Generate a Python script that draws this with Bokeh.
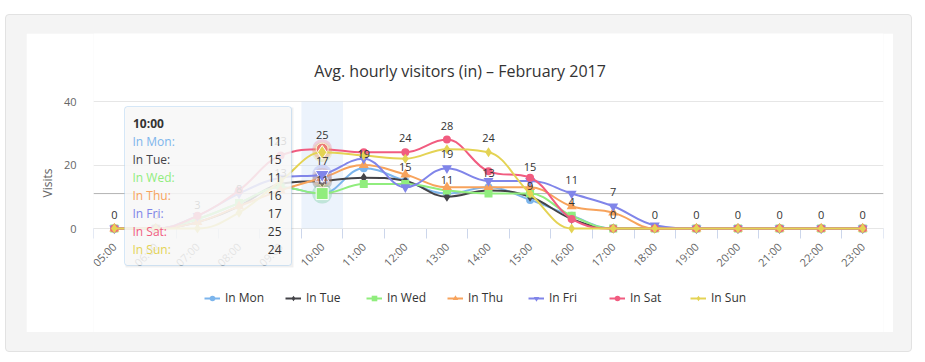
import math
from bokeh.plotting import figure
from bokeh.models import (Range1d, FixedTicker, Span, BoxAnnotation, Label, Legend,
                          LegendItem, ColumnDataSource)
from bokeh.layouts import column
from bokeh.embed import file_html
from bokeh.resources import INLINE
from bokeh.core.properties import value

# ---------------- data ----------------
title_text = "Avg. hourly visitors (in) \u2013 February 2017"
y_axis_title = "Visits"
hours = ["05:00", "06:00", "07:00", "08:00", "09:00", "10:00", "11:00", "12:00",
         "13:00", "14:00", "15:00", "16:00", "17:00", "18:00", "19:00", "20:00",
         "21:00", "22:00", "23:00"]
series_names = ["In Mon", "In Tue", "In Wed", "In Thu", "In Fri", "In Sat", "In Sun"]
series_colors = ["#7cb5ec", "#434348", "#90ed7d", "#f7a35c", "#8085e9", "#f15c80", "#e4d354"]
series_markers = ["circle", "diamond", "square", "triangle", "inverted_triangle", "circle", "diamond"]

in_mon = [0, 0, 3, 8, 13, 11, 19, 15, 11, 13, 9, 4, 0, 0, 0, 0, 0, 0, 0]
in_tue = [0, 0, 2, 7, 14, 15, 16, 15, 10, 12, 10, 3, 0, 0, 0, 0, 0, 0, 0]
in_wed = [0, 0, 3, 8, 13, 11, 14, 14, 12, 11, 11, 4, 0, 0, 0, 0, 0, 0, 0]
in_thu = [0, 0, 2, 7, 12, 16, 20, 17, 13, 13, 13, 7, 5, 0, 0, 0, 0, 0, 0]
in_fri = [0, 0, 4, 11, 16, 17, 22, 13, 19, 15, 15, 11, 7, 1, 0, 0, 0, 0, 0]
in_sat = [0, 0, 4, 12, 23, 25, 24, 24, 28, 18, 16, 3, 0, 0, 0, 0, 0, 0, 0]
in_sun = [0, 0, 0, 5, 15, 24, 23, 22, 25, 24, 11, 0, 0, 0, 0, 0, 0, 0, 0]
series_values = [in_mon, in_tue, in_wed, in_thu, in_fri, in_sat, in_sun]

y_ticks = [0, 20, 40]
y_max = 40
reference_line = 11
tooltip_hour = "10:00"

# ---------------- geometry / style ----------------
FONT = "Open Sans"
FIG_W, FIG_H = 867, 299
ORIGIN_X, ORIGIN_Y = 26, 33          # page position of the figure
MB_L, MB_R = 67, 10                  # frame spans the plot area horizontally
FRAME_W = FIG_W - MB_L - MB_R
ZERO_PY = 228                        # page y of value 0
PX_PER_UNIT = 127 / y_max            # 0 -> 228 px, 40 -> 101 px
n = len(hours)


def dx(px):   # page x pixel -> data x
    return -0.5 + (px - ORIGIN_X - MB_L) / FRAME_W * n


def dy(py):   # page y pixel -> data y
    return (ZERO_PY - py) / PX_PER_UNIT


def spline(ys):
    """Highcharts-style spline control points (smoothing 1.5)."""
    xs = list(range(len(ys)))
    s, d = 1.5, 2.5
    lc = [None] * len(ys)
    rc = [None] * len(ys)
    for i in range(1, len(ys) - 1):
        px, py = xs[i], ys[i]
        lx, ly = xs[i - 1], ys[i - 1]
        nx, ny = xs[i + 1], ys[i + 1]
        lcx, lcy = (s * px + lx) / d, (s * py + ly) / d
        rcx, rcy = (s * px + nx) / d, (s * py + ny) / d
        corr = ((rcy - lcy) * (rcx - px)) / (rcx - lcx) + py - rcy
        lcy += corr
        rcy += corr
        if lcy > ly and lcy > py:
            lcy = max(ly, py); rcy = 2 * py - lcy
        elif lcy < ly and lcy < py:
            lcy = min(ly, py); rcy = 2 * py - lcy
        if rcy > ny and rcy > py:
            rcy = max(ny, py); lcy = 2 * py - rcy
        elif rcy < ny and rcy < py:
            rcy = min(ny, py); lcy = 2 * py - rcy
        lc[i] = (lcx, lcy)
        rc[i] = (rcx, rcy)
    out = dict(x0=[], y0=[], x1=[], y1=[], cx0=[], cy0=[], cx1=[], cy1=[])
    for i in range(1, len(ys)):
        a = rc[i - 1] or (xs[i - 1], ys[i - 1])
        b = lc[i] or (xs[i], ys[i])
        out["x0"].append(xs[i - 1]); out["y0"].append(ys[i - 1])
        out["x1"].append(xs[i]); out["y1"].append(ys[i])
        out["cx0"].append(a[0]); out["cy0"].append(a[1])
        out["cx1"].append(b[0]); out["cy1"].append(b[1])
    return out


p = figure(width=FIG_W, height=FIG_H, title=None,
           x_range=Range1d(-0.5, n - 0.5),
           y_range=Range1d(dy(ORIGIN_Y + FIG_H), dy(ORIGIN_Y)),
           output_backend="svg", toolbar_location=None,
           min_border_left=MB_L, min_border_right=MB_R, min_border_top=0, min_border_bottom=0,
           outline_line_color=None, background_fill_color="white", border_fill_color="white")

# grid / axes
p.xgrid.visible = False
p.ygrid.ticker = FixedTicker(ticks=y_ticks)
p.ygrid.grid_line_color = "#e6e6e6"

xa = p.xaxis[0]
xa.fixed_location = 0
xa.level = "underlay"
xa.ticker = FixedTicker(ticks=list(range(n)), minor_ticks=[i - 0.5 for i in range(n + 1)])
xa.major_label_overrides = {i: h for i, h in enumerate(hours)}
xa.major_label_orientation = math.pi / 4
xa.axis_line_color = "#ccd6eb"
xa.major_tick_line_color = None
xa.minor_tick_line_color = "#ccd6eb"
xa.minor_tick_out = 10
xa.minor_tick_in = 0
xa.major_label_text_color = "#666666"
xa.major_label_text_font = FONT
xa.major_label_text_font_size = "11px"
xa.major_label_standoff = 6

ya = p.yaxis[0]
ya.ticker = FixedTicker(ticks=y_ticks)
ya.bounds = (0, y_max)
ya.axis_line_color = None
ya.major_tick_line_color = None
ya.minor_tick_line_color = None
ya.major_label_text_color = "#666666"
ya.major_label_text_font = FONT
ya.major_label_text_font_size = "11px"
ya.major_label_standoff = 11
ya.axis_label = y_axis_title
ya.axis_label_text_font = FONT
ya.axis_label_text_font_size = "12px"
ya.axis_label_text_font_style = "normal"
ya.axis_label_text_color = "#666666"
ya.axis_label_standoff = 5

tip_idx = hours.index(tooltip_hour)

# crosshair band and reference line
p.add_layout(BoxAnnotation(left=tip_idx - 0.5, right=tip_idx + 0.5, bottom=0, top=y_max,
                           fill_color="#cfe0f7", fill_alpha=0.4, line_color=None, level="underlay"))
p.add_layout(Span(location=reference_line, dimension="width", line_color="#b4b4b4",
                  line_width=1, level="underlay"))

# series
legend_items = []
for name, color, marker, vals in zip(series_names, series_colors, series_markers, series_values):
    seg = ColumnDataSource(spline(vals))
    r_line = p.bezier(x0="x0", y0="y0", x1="x1", y1="y1", cx0="cx0", cy0="cy0", cx1="cx1", cy1="cy1",
                      source=seg, line_color=color, line_width=2)
    size = 8 if marker in ("circle", "square") else 10
    r_pts = p.scatter(x=list(range(n)), y=vals, marker=marker, size=size,
                      fill_color=color, line_color=color, line_width=0)
    # hover halo + enlarged marker at the tooltip hour
    p.scatter(x=[tip_idx], y=[vals[tip_idx]], marker="circle", size=20,
              fill_color=color, fill_alpha=0.25, line_color=None)
    p.scatter(x=[tip_idx], y=[vals[tip_idx]], marker=marker, size=size + 4,
              fill_color=color, line_color="white", line_width=1)
    legend_items.append(LegendItem(label=name, renderers=[r_line, r_pts]))

# data labels (hidden when overlapping a label of an earlier series)
LABEL_GAP = 5.5
lx, ly, lt = [], [], []
for i in range(n):
    kept = []
    for vals in series_values:
        v = vals[i]
        if all(abs(v - k) >= LABEL_GAP for k in kept):
            kept.append(v)
            lx.append(i); ly.append(v); lt.append(str(v))
p.text(x=lx, y=ly, text=lt, y_offset=-14, text_align="center", text_baseline="middle",
       text_font=value(FONT), text_font_size="11px", text_color="#333333")

# legend (frame-relative pixels: 204 px page x, bottom at 306 px page y)
legend = Legend(items=legend_items,
                location=(204 - ORIGIN_X - MB_L, ORIGIN_Y + FIG_H - 306),
                orientation="horizontal",
                glyph_width=16, glyph_height=14, label_height=14, label_width=47,
                label_standoff=5, spacing=13, padding=0, margin=0,
                border_line_color=None, background_fill_alpha=0,
                label_text_font=FONT, label_text_font_size="12px", label_text_color="#333333")
p.add_layout(legend, "center")

# title
p.add_layout(Label(x=dx(459.5), y=dy(70), text=title_text, text_align="center",
                   text_baseline="middle", text_font=FONT, text_font_size="16px",
                   text_color="#333333"))

# tooltip
p.add_layout(BoxAnnotation(left=dx(125), right=dx(293), top=dy(107), bottom=dy(267),
                           fill_color="#000000", fill_alpha=0.06, line_color=None,
                           level="overlay"))
p.add_layout(BoxAnnotation(left=dx(124), right=dx(291), top=dy(106), bottom=dy(265),
                           fill_color="#f9f9f9", fill_alpha=0.86, line_color=series_colors[0],
                           line_width=1, border_radius=3, level="overlay"))
p.add_layout(Label(x=dx(132.5), y=dy(122.5), text=tooltip_hour, text_align="left",
                   text_baseline="middle", text_font=FONT, text_font_size="12px",
                   text_font_style="bold", text_color="#333333", level="overlay"))
for k, (name, color, vals) in enumerate(zip(series_names, series_colors, series_values)):
    yrow = dy(141 + 18 * k)
    p.add_layout(Label(x=dx(132), y=yrow, text=name + ":", text_align="left",
                       text_baseline="middle", text_font=FONT, text_font_size="12px",
                       text_color=color, level="overlay"))
    p.add_layout(Label(x=dx(281), y=yrow, text=str(vals[tip_idx]), text_align="right",
                       text_baseline="middle", text_font=FONT, text_font_size="12px",
                       text_color="#333333", level="overlay"))

outer = column(p, margin=(14, 0, 0, 5),
               styles={"background-color": "#f4f4f4", "border": "1px solid #e2e2e2",
                       "border-radius": "4px", "padding": "18px 18px 19px 20px"})

open("out.html", "w").write(file_html(outer, INLINE))
